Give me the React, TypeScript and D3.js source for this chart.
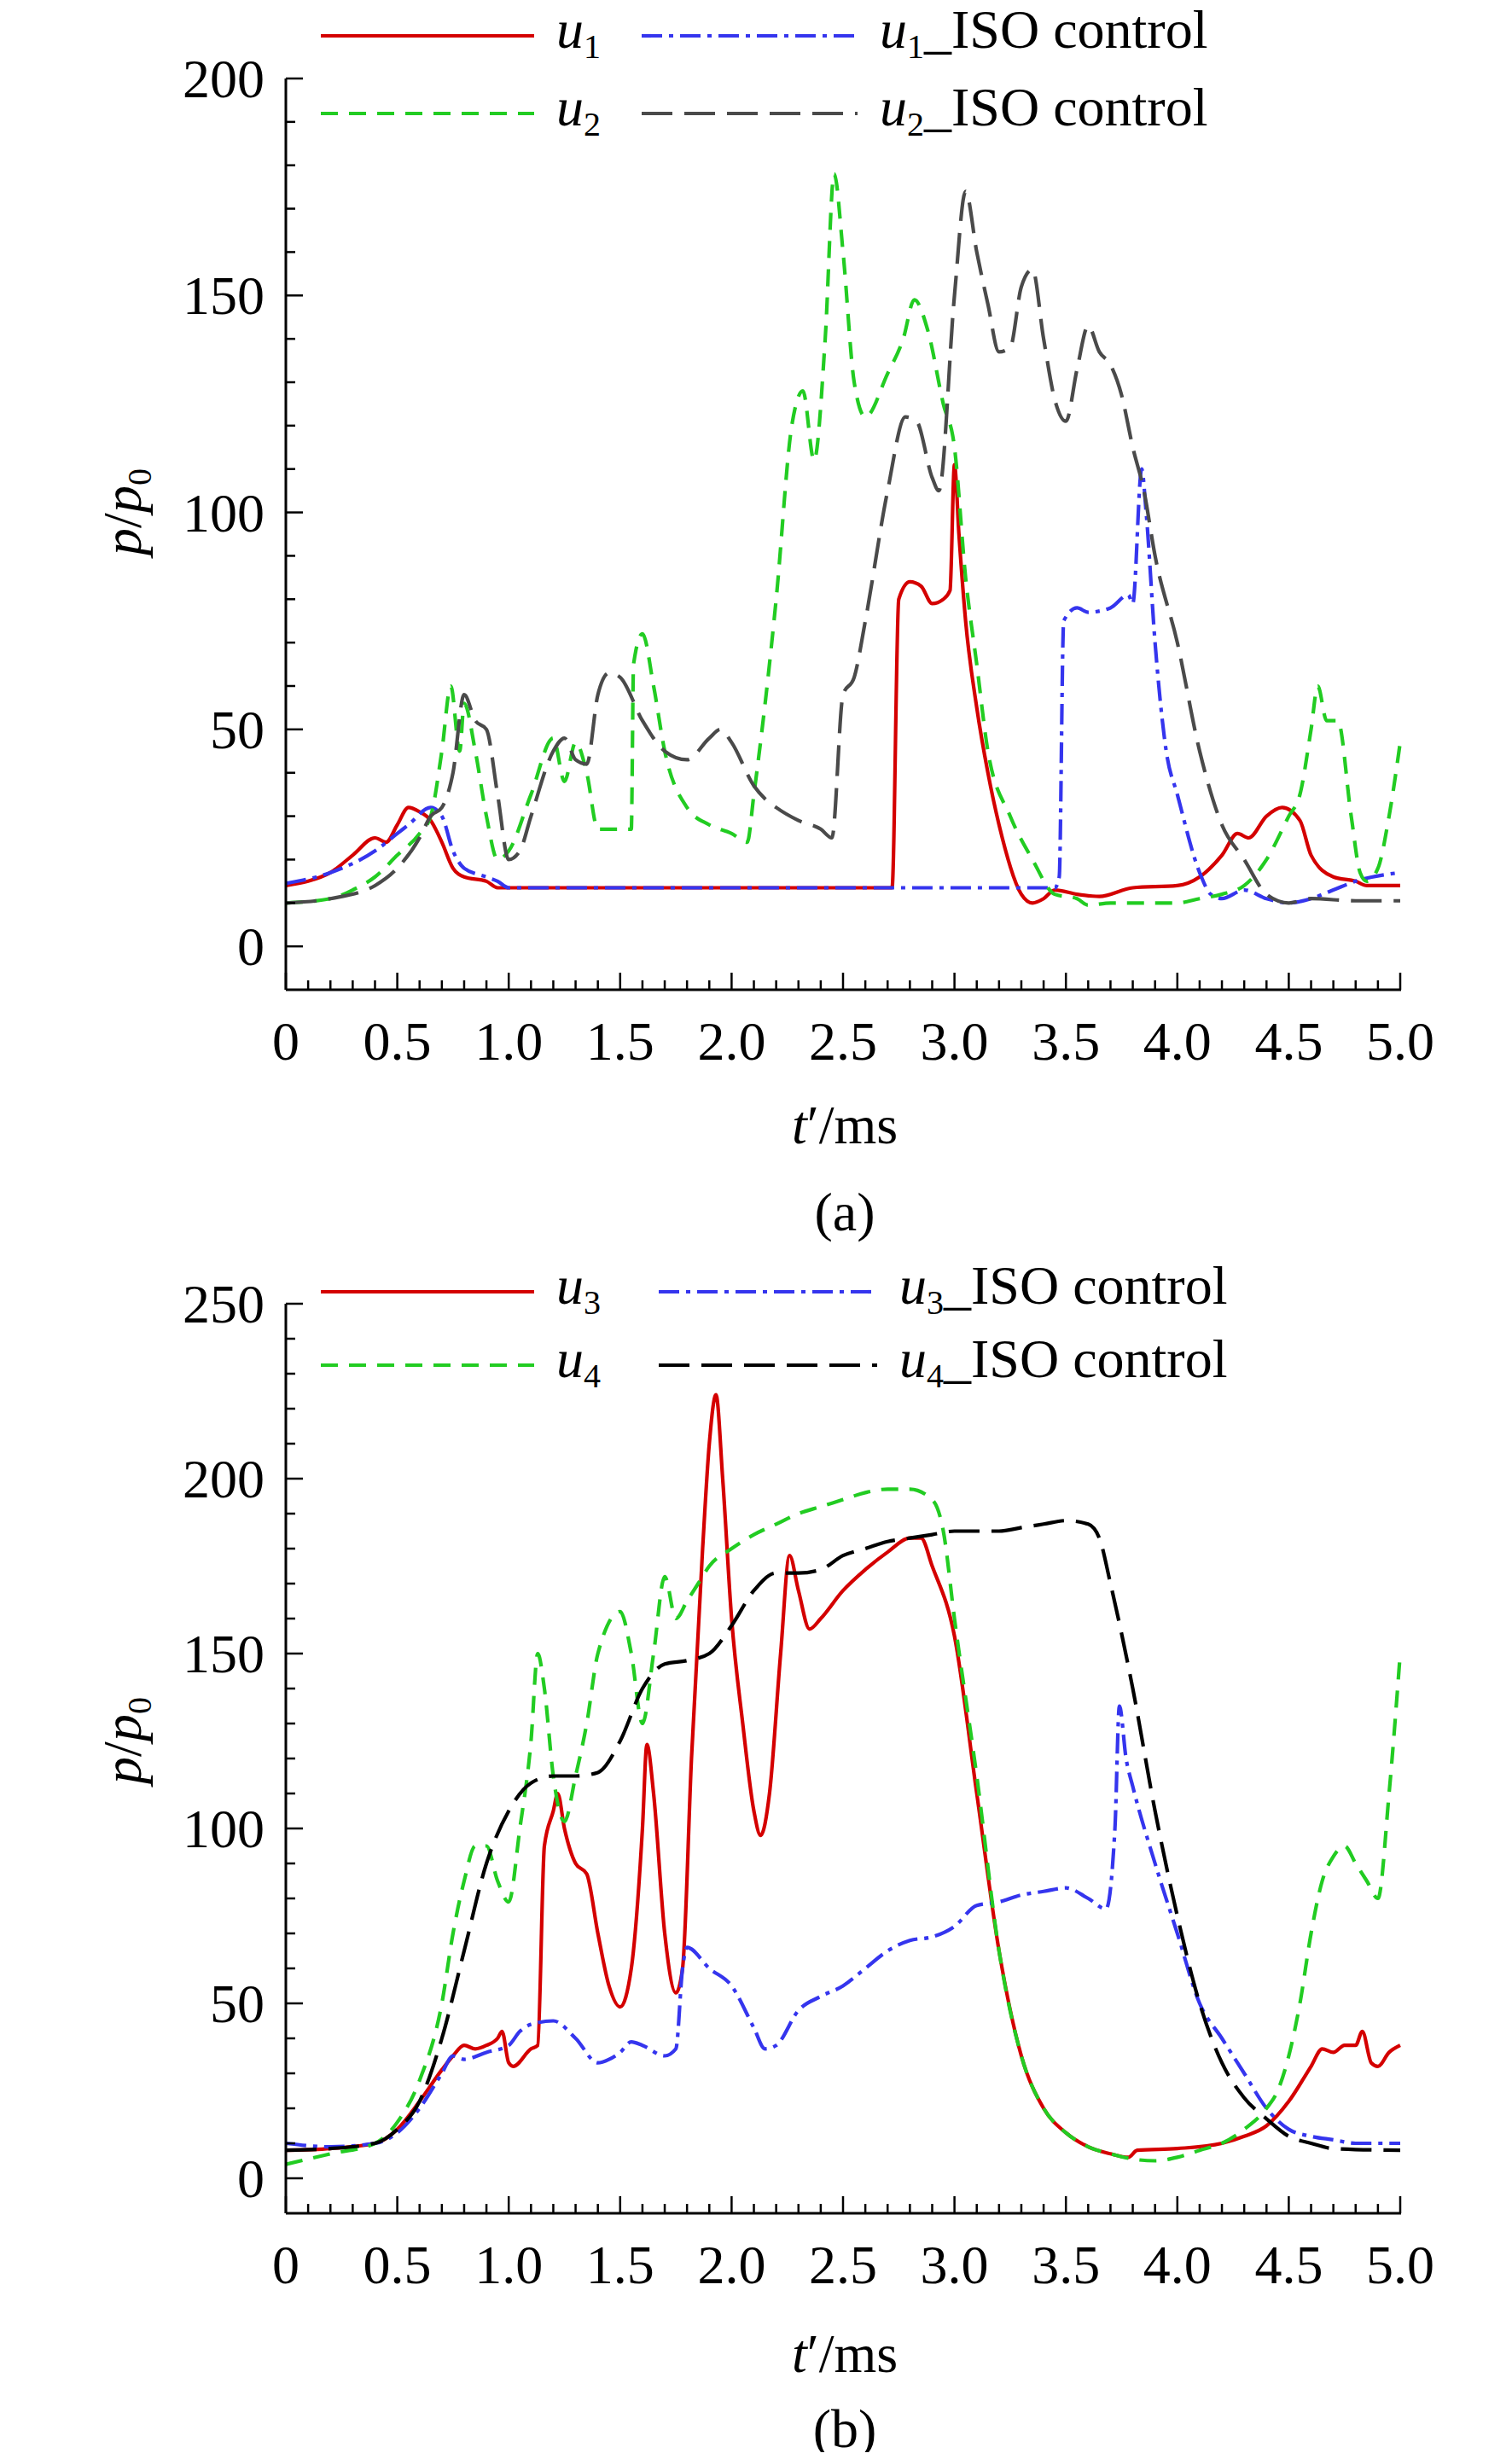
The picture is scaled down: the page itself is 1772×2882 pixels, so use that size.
import * as d3 from 'd3'
import React from 'react'

type Pt = [number, number]

// panel (a)
const u1: Pt[] = [[0,14],[0.1,15],[0.2,17],[0.3,21],[0.4,25],[0.45,24],[0.5,28],[0.55,32],[0.6,31],[0.65,29],[0.7,24],[0.75,18],[0.8,16],[0.9,15],[0.95,13.5],[1.0,13.5],[2.72,13.5],[2.75,80],[2.8,84],[2.85,83],[2.9,79],[2.95,80],[2.98,82],[3.0,111],[3.02,95],[3.05,75],[3.1,55],[3.15,40],[3.2,28],[3.3,12],[3.35,10],[3.4,11],[3.45,13],[3.55,12],[3.65,11.5],[3.8,13.5],[4.0,14],[4.1,16],[4.2,21],[4.27,26],[4.32,25],[4.4,30],[4.47,32],[4.55,29],[4.6,21],[4.7,16],[4.8,15],[4.85,14],[5.0,14]]
const u1Iso: Pt[] = [[0,14.5],[0.2,17],[0.4,22],[0.5,26],[0.55,28],[0.65,32],[0.7,30],[0.75,22],[0.8,18],[0.9,16],[0.95,15],[1.0,13.5],[3.45,13.5],[3.47,16],[3.49,75],[3.55,78],[3.6,77],[3.7,78],[3.78,81],[3.8,79],[3.84,110],[3.86,100],[3.9,70],[3.95,45],[4.0,35],[4.1,17],[4.15,12],[4.2,11],[4.3,13],[4.4,11],[4.5,10],[4.6,11],[4.7,13],[4.8,15],[5.0,17]]
const u2: Pt[] = [[0,10],[0.2,11],[0.3,13],[0.4,16],[0.5,21],[0.6,26],[0.65,30],[0.7,45],[0.74,60],[0.78,45],[0.8,56],[0.85,45],[0.9,30],[0.95,20],[1.0,22],[1.1,35],[1.2,48],[1.25,38],[1.3,47],[1.35,40],[1.4,27],[1.55,27],[1.56,65],[1.6,72],[1.65,60],[1.7,45],[1.8,32],[1.9,28],[2.0,26],[2.07,24],[2.1,35],[2.2,80],[2.27,120],[2.32,128],[2.37,112],[2.42,140],[2.46,178],[2.5,160],[2.55,130],[2.6,122],[2.7,132],[2.77,140],[2.82,149],[2.88,142],[2.95,125],[3.0,115],[3.05,85],[3.1,65],[3.15,45],[3.25,30],[3.35,20],[3.45,12],[3.55,11],[3.6,9.5],[3.7,10],[4.0,10],[4.1,11],[4.2,12],[4.3,14],[4.4,20],[4.5,30],[4.55,35],[4.6,50],[4.63,60],[4.67,52],[4.72,52],[4.78,30],[4.82,17],[4.85,15],[4.9,18],[4.95,30],[5.0,47]]
const u2Iso: Pt[] = [[0,10],[0.2,11],[0.4,14],[0.5,18],[0.6,25],[0.65,30],[0.7,32],[0.75,40],[0.8,58],[0.85,52],[0.9,50],[0.95,35],[1.0,20],[1.05,22],[1.1,30],[1.2,45],[1.25,48],[1.3,43],[1.35,42],[1.4,58],[1.45,63],[1.5,62],[1.6,52],[1.7,45],[1.8,43],[1.9,48],[1.95,50],[2.0,47],[2.1,37],[2.15,34],[2.2,32],[2.3,29],[2.4,27],[2.45,25],[2.5,58],[2.55,62],[2.6,75],[2.7,105],[2.78,122],[2.83,121],[2.9,108],[2.93,105],[3.0,150],[3.05,174],[3.1,160],[3.15,148],[3.2,137],[3.25,138],[3.3,152],[3.35,156],[3.4,140],[3.45,126],[3.5,121],[3.55,133],[3.6,143],[3.65,137],[3.7,134],[3.75,127],[3.8,115],[3.85,105],[3.9,90],[4.0,70],[4.1,45],[4.2,28],[4.3,20],[4.4,12],[4.5,10],[4.6,11],[4.8,10.5],[5.0,10.5]]

// panel (b)
const u3: Pt[] = [[0,8],[0.2,8.5],[0.4,10],[0.5,14],[0.6,22],[0.7,31],[0.75,35],[0.8,38],[0.85,37],[0.9,38],[0.95,40],[0.97,42],[1.0,33],[1.02,32],[1.1,37],[1.13,38],[1.16,95],[1.2,105],[1.22,110],[1.25,100],[1.3,90],[1.35,87],[1.4,70],[1.45,55],[1.5,49],[1.55,60],[1.6,100],[1.62,124],[1.65,110],[1.7,70],[1.75,53],[1.78,60],[1.82,120],[1.87,180],[1.9,210],[1.93,224],[1.96,200],[2.0,160],[2.05,130],[2.1,105],[2.13,98],[2.17,110],[2.22,150],[2.26,178],[2.3,168],[2.35,157],[2.4,160],[2.5,168],[2.6,174],[2.7,179],[2.8,183],[2.85,183],[2.9,175],[3.0,155],[3.1,110],[3.2,65],[3.3,35],[3.4,20],[3.5,13],[3.6,9],[3.7,7],[3.78,6],[3.82,8],[4.0,8.5],[4.2,10],[4.3,12],[4.4,15],[4.5,22],[4.6,32],[4.65,37],[4.7,36],[4.75,38],[4.8,38],[4.83,42],[4.87,33],[4.9,32],[4.95,36],[5.0,38]]
const u3Iso: Pt[] = [[0,10],[0.2,9],[0.4,10],[0.5,13],[0.6,20],[0.7,30],[0.75,35],[0.8,34],[0.9,36],[1.0,38],[1.05,42],[1.1,44],[1.2,45],[1.3,40],[1.4,33],[1.45,34],[1.5,36],[1.55,39],[1.6,38],[1.7,35],[1.75,37],[1.78,60],[1.8,66],[1.9,60],[2.0,55],[2.1,43],[2.15,37],[2.2,38],[2.3,48],[2.4,52],[2.5,55],[2.6,60],[2.7,65],[2.8,68],[2.9,69],[3.0,72],[3.1,78],[3.2,79],[3.3,81],[3.4,82],[3.5,83],[3.6,80],[3.68,77],[3.72,100],[3.74,135],[3.77,120],[3.8,112],[3.9,90],[4.0,70],[4.1,50],[4.2,40],[4.3,30],[4.4,20],[4.5,14],[4.6,12],[4.7,11],[4.8,10],[5.0,10]]
const u4: Pt[] = [[0,4],[0.2,7],[0.4,10],[0.5,16],[0.6,28],[0.7,50],[0.75,70],[0.8,85],[0.85,95],[0.9,95],[0.95,85],[1.0,79],[1.05,100],[1.1,125],[1.13,150],[1.16,140],[1.2,115],[1.25,102],[1.3,115],[1.35,130],[1.4,150],[1.5,162],[1.55,150],[1.6,130],[1.65,150],[1.7,172],[1.75,160],[1.8,165],[1.85,170],[1.9,175],[2.0,180],[2.1,184],[2.2,187],[2.3,190],[2.4,192],[2.5,194],[2.6,196],[2.7,197],[2.8,197],[2.9,194],[2.95,185],[3.0,160],[3.1,115],[3.2,65],[3.3,35],[3.4,20],[3.5,13],[3.6,9],[3.7,7],[3.8,5.5],[3.9,5],[4.0,6],[4.1,8],[4.2,10],[4.3,14],[4.4,20],[4.45,25],[4.5,35],[4.55,50],[4.6,70],[4.65,85],[4.7,92],[4.75,95],[4.8,90],[4.85,85],[4.9,80],[4.95,110],[5.0,150]]
const u4Iso: Pt[] = [[0,8],[0.2,8.5],[0.4,10],[0.5,14],[0.6,22],[0.7,40],[0.8,65],[0.9,90],[1.0,105],[1.1,113],[1.2,115],[1.3,115],[1.4,116],[1.5,125],[1.6,140],[1.7,147],[1.8,148],[1.9,150],[2.0,158],[2.1,168],[2.2,173],[2.3,173],[2.4,174],[2.5,178],[2.6,180],[2.7,182],[2.8,183],[2.9,184],[3.0,185],[3.2,185],[3.3,186],[3.4,187],[3.5,188],[3.6,187],[3.65,183],[3.7,170],[3.8,140],[3.9,105],[4.0,75],[4.1,50],[4.2,33],[4.3,23],[4.4,17],[4.5,12],[4.6,10],[4.7,8.5],[5.0,8]]

const xTicks = [0, 0.5, 1, 1.5, 2, 2.5, 3, 3.5, 4, 4.5, 5]
const yTicksA = [0, 50, 100, 150, 200]
const yTicksB = [0, 50, 100, 150, 200, 250]

const FONT = "'Liberation Serif', 'Times New Roman', serif"
const FS = 64
const SUB = 40
const RED = '#d40000'
const BLUE = '#3535ee'
const GREEN = '#22cc22'

interface SeriesDef { data: Pt[]; color: string; dash: string; sub: string }

interface PanelProps {
  top: number
  bottom: number
  yMax: number
  yTicks: number[]
  series: SeriesDef[]
  legendY: [number, number]
  legendX2: [number, number]
  label: string
  labelY: number
  titleY: number
  yLabelY: number
}

const x = d3.scaleLinear().domain([0, 5]).range([335, 1641])

const Panel = ({ top, bottom, yMax, yTicks, series, legendY, legendX2, label, labelY, titleY, yLabelY }: PanelProps) => {
  const zeroY = bottom - (bottom - top) * 10 / (yMax + 10)
  const y = d3.scaleLinear().domain([0, yMax]).range([zeroY, top])
  const line = d3.line<Pt>().x((d) => x(d[0])).y((d) => y(d[1])).curve(d3.curveMonotoneX)
  const minorX = d3.range(0, 51).map((i) => i / 10)
  const minorY = d3.range(0, yMax / 10 + 1).map((i) => i * 10)
  return (
    <g fontFamily={FONT}>
      {series.map((s, i) => (
        <path key={i} d={line(s.data) ?? ''} fill="none" stroke={s.color} strokeWidth={4.2} strokeDasharray={s.dash} />
      ))}
      <line x1={335} x2={335} y1={top} y2={bottom} stroke="#000" strokeWidth={3} />
      <line x1={335} x2={1642} y1={bottom} y2={bottom} stroke="#000" strokeWidth={3} />
      {minorX.map((t) => (
        <line key={t} x1={x(t)} x2={x(t)} y1={bottom} y2={bottom - (Math.round(t * 10) % 5 === 0 ? 20 : 11)} stroke="#000" strokeWidth={2.5} />
      ))}
      {minorY.map((v) => (
        <line key={v} x1={335} x2={335 + (v % 50 === 0 ? 20 : 11)} y1={y(v)} y2={y(v)} stroke="#000" strokeWidth={2.5} />
      ))}
      {xTicks.map((t) => (
        <text key={t} x={x(t)} y={bottom + 82} fontSize={FS} textAnchor="middle">{t === 0 ? '0' : t.toFixed(1)}</text>
      ))}
      {yTicks.map((v) => (
        <text key={v} x={310} y={y(v) + 22} fontSize={FS} textAnchor="end">{v}</text>
      ))}
      <text transform={`translate(165,${yLabelY}) rotate(-90)`} fontSize={FS} textAnchor="middle">
        <tspan fontStyle="italic">p</tspan>/<tspan fontStyle="italic">p</tspan><tspan fontSize={SUB} dy={12}>0</tspan>
      </text>
      <text x={990} y={titleY} fontSize={FS} textAnchor="middle">
        <tspan fontStyle="italic">t</tspan>′/ms
      </text>
      <text x={990} y={labelY} fontSize={FS} textAnchor="middle">{label}</text>
      {series.map((s, i) => {
        const col = i % 2
        const row = Math.floor(i / 2)
        const ly = legendY[row]
        const x1 = col === 0 ? 376 : legendX2[0]
        const x2 = col === 0 ? 626 : legendX2[1]
        return (
          <g key={i}>
            <line x1={x1} x2={x2} y1={ly} y2={ly} stroke={s.color} strokeWidth={4.2} strokeDasharray={s.dash} />
            <text x={x2 + 26} y={ly + 14} fontSize={FS}>
              <tspan fontStyle="italic">u</tspan><tspan fontSize={SUB} dy={12}>{s.sub}</tspan>
              {col === 1 ? <tspan dy={-12}>_ISO control</tspan> : null}
            </text>
          </g>
        )
      })}
    </g>
  )
}

const App = () => {
  const dashDot = '24 8 5 8'
  const shortDash = '20 13'
  const longDash = '36 14'
  return (
    <svg width={1772} height={2882} style={{ display: 'block', margin: -8, background: '#fff' }}>
      <Panel top={92} bottom={1160} yMax={200} yTicks={yTicksA}
        series={[
          { data: u1, color: RED, dash: '', sub: '1' },
          { data: u1Iso, color: BLUE, dash: dashDot, sub: '1' },
          { data: u2, color: GREEN, dash: shortDash, sub: '2' },
          { data: u2Iso, color: '#4a4a4a', dash: longDash, sub: '2' },
        ]}
        legendY={[42, 133]} legendX2={[752, 1005]} label="(a)" titleY={1340} labelY={1442} yLabelY={600} />
      <Panel top={1528} bottom={2594} yMax={250} yTicks={yTicksB}
        series={[
          { data: u3, color: RED, dash: '', sub: '3' },
          { data: u3Iso, color: BLUE, dash: dashDot, sub: '3' },
          { data: u4, color: GREEN, dash: shortDash, sub: '4' },
          { data: u4Iso, color: '#000', dash: longDash, sub: '4' },
        ]}
        legendY={[1514, 1600]} legendX2={[772, 1028]} label="(b)" titleY={2780} labelY={2868} yLabelY={2040} />
    </svg>
  )
}

export default App
